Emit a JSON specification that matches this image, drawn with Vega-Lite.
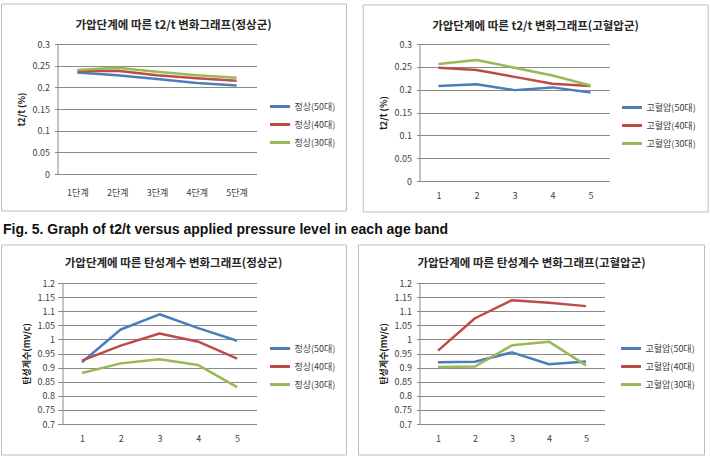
{
  "$schema": "https://vega.github.io/schema/vega-lite/v6.json",
  "background": "white",
  "padding": {"left": 0.5, "top": 3, "right": 0, "bottom": 0},
  "datasets": {
    "t2t_normal": [
      {"stage": 1, "series": "정상(50대)", "value": 0.234},
      {"stage": 2, "series": "정상(50대)", "value": 0.228},
      {"stage": 3, "series": "정상(50대)", "value": 0.219},
      {"stage": 4, "series": "정상(50대)", "value": 0.210},
      {"stage": 5, "series": "정상(50대)", "value": 0.204},
      {"stage": 1, "series": "정상(40대)", "value": 0.237},
      {"stage": 2, "series": "정상(40대)", "value": 0.238},
      {"stage": 3, "series": "정상(40대)", "value": 0.228},
      {"stage": 4, "series": "정상(40대)", "value": 0.221},
      {"stage": 5, "series": "정상(40대)", "value": 0.215},
      {"stage": 1, "series": "정상(30대)", "value": 0.240},
      {"stage": 2, "series": "정상(30대)", "value": 0.245},
      {"stage": 3, "series": "정상(30대)", "value": 0.236},
      {"stage": 4, "series": "정상(30대)", "value": 0.228},
      {"stage": 5, "series": "정상(30대)", "value": 0.222}
    ],
    "t2t_hyper": [
      {"stage": 1, "series": "고혈압(50대)", "value": 0.208},
      {"stage": 2, "series": "고혈압(50대)", "value": 0.212},
      {"stage": 3, "series": "고혈압(50대)", "value": 0.199},
      {"stage": 4, "series": "고혈압(50대)", "value": 0.205},
      {"stage": 5, "series": "고혈압(50대)", "value": 0.194},
      {"stage": 1, "series": "고혈압(40대)", "value": 0.248},
      {"stage": 2, "series": "고혈압(40대)", "value": 0.243},
      {"stage": 3, "series": "고혈압(40대)", "value": 0.228},
      {"stage": 4, "series": "고혈압(40대)", "value": 0.213},
      {"stage": 5, "series": "고혈압(40대)", "value": 0.208},
      {"stage": 1, "series": "고혈압(30대)", "value": 0.256},
      {"stage": 2, "series": "고혈압(30대)", "value": 0.265},
      {"stage": 3, "series": "고혈압(30대)", "value": 0.248},
      {"stage": 4, "series": "고혈압(30대)", "value": 0.231},
      {"stage": 5, "series": "고혈압(30대)", "value": 0.209}
    ],
    "elastic_normal": [
      {"stage": 1, "series": "정상(50대)", "value": 0.919},
      {"stage": 2, "series": "정상(50대)", "value": 1.035},
      {"stage": 3, "series": "정상(50대)", "value": 1.089},
      {"stage": 4, "series": "정상(50대)", "value": 1.040},
      {"stage": 5, "series": "정상(50대)", "value": 0.995},
      {"stage": 1, "series": "정상(40대)", "value": 0.925},
      {"stage": 2, "series": "정상(40대)", "value": 0.978},
      {"stage": 3, "series": "정상(40대)", "value": 1.021},
      {"stage": 4, "series": "정상(40대)", "value": 0.992},
      {"stage": 5, "series": "정상(40대)", "value": 0.932},
      {"stage": 1, "series": "정상(30대)", "value": 0.881},
      {"stage": 2, "series": "정상(30대)", "value": 0.915},
      {"stage": 3, "series": "정상(30대)", "value": 0.930},
      {"stage": 4, "series": "정상(30대)", "value": 0.909},
      {"stage": 5, "series": "정상(30대)", "value": 0.831}
    ],
    "elastic_hyper": [
      {"stage": 1, "series": "고혈압(50대)", "value": 0.919},
      {"stage": 2, "series": "고혈압(50대)", "value": 0.921},
      {"stage": 3, "series": "고혈압(50대)", "value": 0.954},
      {"stage": 4, "series": "고혈압(50대)", "value": 0.912},
      {"stage": 5, "series": "고혈압(50대)", "value": 0.922},
      {"stage": 1, "series": "고혈압(40대)", "value": 0.960},
      {"stage": 2, "series": "고혈압(40대)", "value": 1.075},
      {"stage": 3, "series": "고혈압(40대)", "value": 1.139},
      {"stage": 4, "series": "고혈압(40대)", "value": 1.130},
      {"stage": 5, "series": "고혈압(40대)", "value": 1.118},
      {"stage": 1, "series": "고혈압(30대)", "value": 0.902},
      {"stage": 2, "series": "고혈압(30대)", "value": 0.904},
      {"stage": 3, "series": "고혈압(30대)", "value": 0.979},
      {"stage": 4, "series": "고혈압(30대)", "value": 0.992},
      {"stage": 5, "series": "고혈압(30대)", "value": 0.908}
    ]
  },
  "columns": 1,
  "align": "none",
  "spacing": 10,
  "concat": [
    {
      "columns": 2,
      "align": "none",
      "spacing": 15,
      "concat": [
        {
          "width": 199,
          "height": 130,
          "title": {"text": "가압단계에 따른 t2/t 변화그래프(정상군)", "offset": -28, "dx": 16.5},
          "layer": [
            {
              "data": {"values": [{}]},
              "mark": {"type": "rect", "filled": false, "stroke": "#bdbdbd", "strokeWidth": 1},
              "encoding": {
                "x": {
                  "datum": -0.907, "type": "quantitative",
                  "scale": {"domain": [0.5, 5.5], "nice": false, "zero": false},
                  "axis": {"values": [1, 2, 3, 4, 5], "labelExpr": "datum.value + '단계'", "title": null, "grid": false, "ticks": false, "labelPadding": 14}
                },
                "x2": {"datum": 7.761},
                "y": {
                  "datum": 0.3923, "type": "quantitative",
                  "scale": {"domain": [0, 0.3], "nice": false, "zero": false},
                  "axis": {"values": [0, 0.05, 0.1, 0.15, 0.2, 0.25, 0.3], "format": ".2~f", "title": "t2/t (%)"}
                },
                "y2": {"datum": -0.0854}
              }
            },
            {
              "data": {"name": "t2t_normal"},
              "mark": {"type": "line", "strokeWidth": 2.5, "strokeJoin": "round"},
              "encoding": {
                "x": {
                  "field": "stage", "type": "quantitative",
                  "scale": {"domain": [0.5, 5.5], "nice": false, "zero": false},
                  "axis": {"values": [1, 2, 3, 4, 5], "labelExpr": "datum.value + '단계'", "title": null, "grid": false, "ticks": false, "labelPadding": 14}
                },
                "y": {
                  "field": "value", "type": "quantitative",
                  "scale": {"domain": [0, 0.3], "nice": false, "zero": false},
                  "axis": {"values": [0, 0.05, 0.1, 0.15, 0.2, 0.25, 0.3], "format": ".2~f", "title": "t2/t (%)"}
                },
                "color": {
                  "field": "series", "type": "nominal",
                  "scale": {"domain": ["정상(50대)", "정상(40대)", "정상(30대)"], "range": ["#4a7ebb", "#be4b48", "#98b954"]},
                  "legend": {"orient": "none", "legendX": 211, "legendY": 51}
                }
              }
            }
          ]
        },
        {
          "width": 190,
          "height": 137,
          "title": {"text": "가압단계에 따른 t2/t 변화그래프(고혈압군)", "offset": -28, "dx": 21},
          "layer": [
            {
              "data": {"values": [{}]},
              "mark": {"type": "rect", "filled": false, "stroke": "#bdbdbd", "strokeWidth": 1},
              "encoding": {
                "x": {
                  "datum": -0.982, "type": "quantitative",
                  "scale": {"domain": [0.5, 5.5], "nice": false, "zero": false},
                  "axis": {"values": [1, 2, 3, 4, 5], "title": null, "grid": false, "ticks": false, "labelPadding": 10}
                },
                "x2": {"datum": 8.097},
                "y": {
                  "datum": 0.3854, "type": "quantitative",
                  "scale": {"domain": [0, 0.3], "nice": false, "zero": false},
                  "axis": {"values": [0, 0.05, 0.1, 0.15, 0.2, 0.25, 0.3], "format": ".2~f", "title": "t2/t (%)"}
                },
                "y2": {"datum": -0.0679}
              }
            },
            {
              "data": {"name": "t2t_hyper"},
              "mark": {"type": "line", "strokeWidth": 2.5, "strokeJoin": "round"},
              "encoding": {
                "x": {
                  "field": "stage", "type": "quantitative",
                  "scale": {"domain": [0.5, 5.5], "nice": false, "zero": false},
                  "axis": {"values": [1, 2, 3, 4, 5], "title": null, "grid": false, "ticks": false, "labelPadding": 10}
                },
                "y": {
                  "field": "value", "type": "quantitative",
                  "scale": {"domain": [0, 0.3], "nice": false, "zero": false},
                  "axis": {"values": [0, 0.05, 0.1, 0.15, 0.2, 0.25, 0.3], "format": ".2~f", "title": "t2/t (%)"}
                },
                "color": {
                  "field": "series", "type": "nominal",
                  "scale": {"domain": ["고혈압(50대)", "고혈압(40대)", "고혈압(30대)"], "range": ["#4a7ebb", "#be4b48", "#98b954"]},
                  "legend": {"orient": "none", "legendX": 201, "legendY": 52}
                }
              }
            }
          ]
        }
      ],
      "resolve": {"scale": {"color": "independent"}, "legend": {"color": "independent"}}
    },
    {
      "title": {
        "text": "Fig. 5. Graph of t2/t versus applied pressure level in each age band",
        "font": "Liberation Sans", "fontSize": 14, "fontWeight": "bold", "color": "#111111",
        "anchor": "start", "frame": "bounds", "offset": 7, "dx": 2
      },
      "columns": 2,
      "align": "none",
      "spacing": 10,
      "concat": [
        {
          "width": 199,
          "height": 141,
          "title": {"text": "가압단계에 따른 탄성계수 변화그래프(정상군)", "offset": -25, "dx": 16.5},
          "layer": [
            {
              "data": {"values": [{}]},
              "mark": {"type": "rect", "filled": false, "stroke": "#bdbdbd", "strokeWidth": 1},
              "encoding": {
                "x": {
                  "datum": -1.072, "type": "quantitative",
                  "scale": {"domain": [0.371, 5.5], "nice": false, "zero": false},
                  "axis": {"values": [1, 2, 3, 4, 5], "title": null, "grid": false, "ticks": false, "labelPadding": 10}
                },
                "x2": {"datum": 7.820},
                "y": {
                  "datum": 1.3348, "type": "quantitative",
                  "scale": {"domain": [0.7, 1.2], "nice": false, "zero": false},
                  "axis": {"values": [0.7, 0.75, 0.8, 0.85, 0.9, 0.95, 1, 1.05, 1.1, 1.15, 1.2], "format": ".2~f", "title": "탄성계수(mv/c)", "offset": -5}
                },
                "y2": {"datum": 0.5901}
              }
            },
            {
              "data": {"name": "elastic_normal"},
              "mark": {"type": "line", "strokeWidth": 2.5, "strokeJoin": "round"},
              "encoding": {
                "x": {
                  "field": "stage", "type": "quantitative",
                  "scale": {"domain": [0.371, 5.5], "nice": false, "zero": false},
                  "axis": {"values": [1, 2, 3, 4, 5], "title": null, "grid": false, "ticks": false, "labelPadding": 10}
                },
                "y": {
                  "field": "value", "type": "quantitative",
                  "scale": {"domain": [0.7, 1.2], "nice": false, "zero": false},
                  "axis": {"values": [0.7, 0.75, 0.8, 0.85, 0.9, 0.95, 1, 1.05, 1.1, 1.15, 1.2], "format": ".2~f", "title": "탄성계수(mv/c)", "offset": -5}
                },
                "color": {
                  "field": "series", "type": "nominal",
                  "scale": {"domain": ["정상(50대)", "정상(40대)", "정상(30대)"], "range": ["#4a7ebb", "#be4b48", "#98b954"]},
                  "legend": {"orient": "none", "legendX": 211, "legendY": 54, "rowPadding": -1}
                }
              }
            }
          ]
        },
        {
          "width": 185,
          "height": 141,
          "title": {"text": "가압단계에 따른 탄성계수 변화그래프(고혈압군)", "offset": -25, "dx": 19.5},
          "layer": [
            {
              "data": {"values": [{}]},
              "mark": {"type": "rect", "filled": false, "stroke": "#bdbdbd", "strokeWidth": 1},
              "encoding": {
                "x": {
                  "datum": -1.149, "type": "quantitative",
                  "scale": {"domain": [0.5, 5.5], "nice": false, "zero": false},
                  "axis": {"values": [1, 2, 3, 4, 5], "title": null, "grid": false, "ticks": false, "labelPadding": 10}
                },
                "x2": {"datum": 8.203},
                "y": {
                  "datum": 1.3348, "type": "quantitative",
                  "scale": {"domain": [0.7, 1.2], "nice": false, "zero": false},
                  "axis": {"values": [0.7, 0.75, 0.8, 0.85, 0.9, 0.95, 1, 1.05, 1.1, 1.15, 1.2], "format": ".2~f", "title": "탄성계수(mv/c)"}
                },
                "y2": {"datum": 0.5901}
              }
            },
            {
              "data": {"name": "elastic_hyper"},
              "mark": {"type": "line", "strokeWidth": 2.5, "strokeJoin": "round"},
              "encoding": {
                "x": {
                  "field": "stage", "type": "quantitative",
                  "scale": {"domain": [0.5, 5.5], "nice": false, "zero": false},
                  "axis": {"values": [1, 2, 3, 4, 5], "title": null, "grid": false, "ticks": false, "labelPadding": 10}
                },
                "y": {
                  "field": "value", "type": "quantitative",
                  "scale": {"domain": [0.7, 1.2], "nice": false, "zero": false},
                  "axis": {"values": [0.7, 0.75, 0.8, 0.85, 0.9, 0.95, 1, 1.05, 1.1, 1.15, 1.2], "format": ".2~f", "title": "탄성계수(mv/c)"}
                },
                "color": {
                  "field": "series", "type": "nominal",
                  "scale": {"domain": ["고혈압(50대)", "고혈압(40대)", "고혈압(30대)"], "range": ["#4a7ebb", "#be4b48", "#98b954"]},
                  "legend": {"orient": "none", "legendX": 200, "legendY": 54, "rowPadding": -1}
                }
              }
            }
          ]
        }
      ],
      "resolve": {"scale": {"color": "independent"}, "legend": {"color": "independent"}}
    }
  ],
  "resolve": {"scale": {"color": "independent"}, "legend": {"color": "independent"}},
  "config": {
    "font": "Noto Sans CJK KR",
    "view": {"stroke": null},
    "axis": {
      "labelFont": "Noto Sans CJK KR",
      "labelFontSize": 9,
      "labelColor": "#404040",
      "labelPadding": 5,
      "labelOverlap": false,
      "domainColor": "#8a8a8a",
      "gridColor": "#8a8a8a",
      "tickColor": "#8a8a8a",
      "tickSize": 3,
      "titleFont": "Noto Sans CJK KR",
      "titleFontSize": 9,
      "titleFontWeight": "bold",
      "titleColor": "#1a1a1a",
      "titlePadding": 6
    },
    "axisY": {"grid": true},
    "title": {"font": "Noto Sans CJK KR", "fontSize": 11.5, "fontWeight": "bold", "color": "#262626", "anchor": "middle", "frame": "group"},
    "legend": {
      "title": null,
      "symbolType": "stroke",
      "symbolSize": 400,
      "symbolStrokeWidth": 3,
      "labelFont": "Noto Sans CJK KR",
      "labelFontSize": 9,
      "labelColor": "#404040",
      "labelOffset": 3,
      "rowPadding": -2.5,
      "padding": 0
    }
  }
}
